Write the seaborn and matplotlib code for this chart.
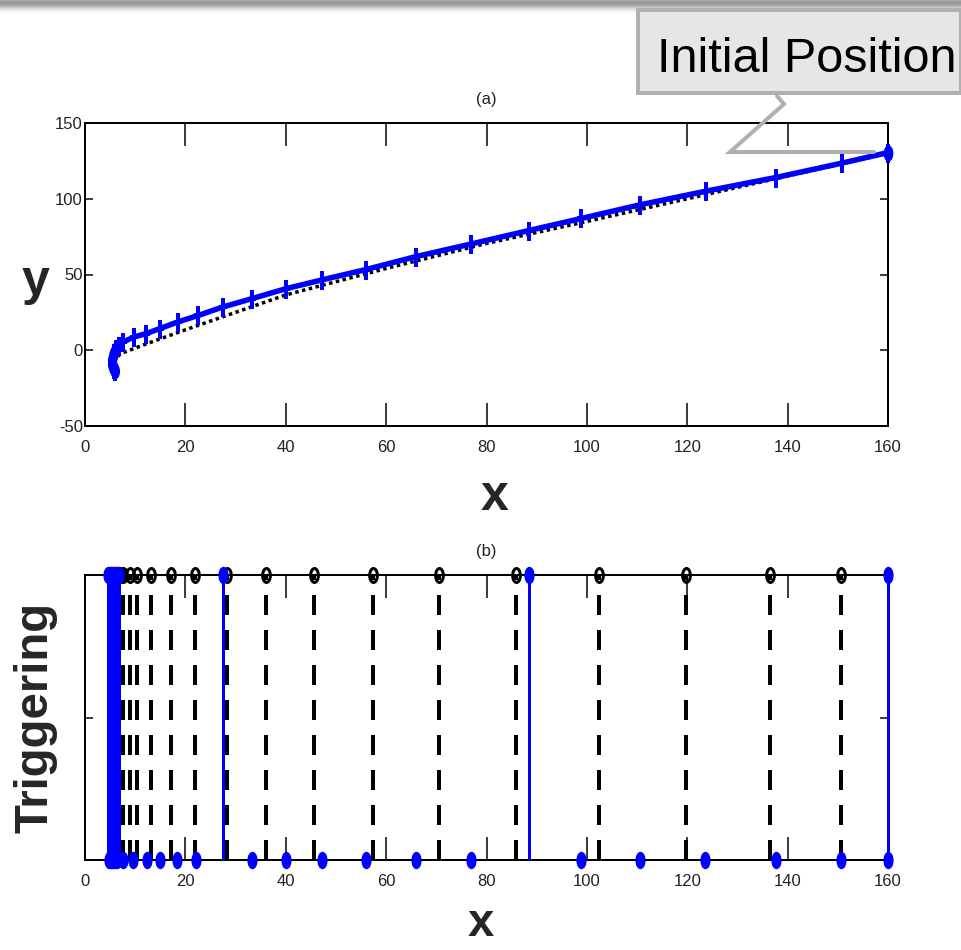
import numpy as np
import pandas as pd
import matplotlib
matplotlib.use("Agg")
import matplotlib.pyplot as plt
import seaborn as sns
from matplotlib.path import Path
from matplotlib.markers import MarkerStyle
from matplotlib.lines import Line2D
from matplotlib.patches import Rectangle

# ---------------- data ----------------
# panel (a): trajectory (blue, '+') and reference path (black dotted)
traj_x = [160, 150.8, 137.6, 123.7, 110.6, 98.9, 88.4, 77.0, 65.9, 56.0, 47.3, 40.0,
          33.2, 27.4, 22.6, 18.5, 14.9, 12.2, 9.8, 7.6, 6.8, 6.2, 5.8, 5.5, 5.4,
          5.4, 5.5, 5.7, 5.9]
traj_y = [130.5, 123.5, 114.0, 105.0, 96.0, 87.0, 79.0, 70.2, 61.8, 53.3, 46.5, 40.6,
          34.0, 28.5, 23.0, 18.7, 14.3, 11.0, 8.8, 5.5, 3.0, 1.0, -1.5, -4.0, -6.5,
          -9.0, -11.0, -12.5, -13.5]
ref_x = [6.5, 7.3, 10.6, 13.3, 20, 30, 40, 60, 80, 100, 120, 140, 160]
ref_y = [-4.0, -2.0, 2.2, 5.5, 13.5, 25.0, 36.5, 54.0, 70.5, 85.0, 100.0, 115.0, 130.0]

# panel (b): triggering instants
trig_x = [4.6, 4.9, 5.2, 5.5, 5.8, 6.1, 6.4, 6.7, 27.4, 88.4, 160]          # value 1 (blue)
idle_x = [4.8, 5.1, 5.4, 5.7, 6.0, 6.3, 7.6, 9.6, 12.3, 14.9, 18.4, 22.2, 33.3, 40.0,
          47.3, 55.9, 65.9, 77.0, 98.9, 110.6, 123.6, 137.6, 150.7, 160]    # value 0 (blue)
event_x = [5.2, 5.7, 6.3, 6.9, 7.6, 9.0, 10.4, 13.1, 17.1, 21.9, 28.2, 36.0, 45.7,
           57.3, 70.6, 85.8, 102.4, 119.7, 136.5, 150.7]                   # black dashed

x_ticks = [0, 20, 40, 60, 80, 100, 120, 140, 160]
y_ticks_a = [-50, 0, 50, 100, 150]

# ---------------- style ----------------
sns.set_style("ticks")
ARIAL = ["Liberation Sans", "Arial", "DejaVu Sans"]
NARROW = ["Liberation Sans Narrow", "Liberation Sans", "DejaVu Sans"]
plt.rcParams["font.family"] = ARIAL

W, H = 962, 950
fig = plt.figure(figsize=(W / 100, H / 100), dpi=100)
PX = 72 / 100  # points per pixel


def fx(px):
    return px / W


def fy(py):
    return 1 - py / H


circ = Path.unit_circle()
ellipse = MarkerStyle(Path(circ.vertices * np.array([0.55, 1.0]), circ.codes))
plus = MarkerStyle(Path([(-0.45, 0), (0.45, 0), (0, -1), (0, 1)],
                        [Path.MOVETO, Path.LINETO, Path.MOVETO, Path.LINETO]))

tick_kw = dict(direction="in", top=True, right=True, width=1.5 * PX, colors="black",
               labelcolor="#222222", labelsize=12)


def style_axes(ax):
    for s in ax.spines.values():
        s.set_linewidth(2 * PX)
        s.set_color("black")
        s.set_visible(True)
    ax.tick_params(axis="x", length=23 * PX, pad=10, **tick_kw)
    ax.tick_params(axis="y", length=8 * PX, pad=1.5, **tick_kw)
    for lab in ax.get_xticklabels() + ax.get_yticklabels():
        lab.set_fontfamily(NARROW)


# ---------------- panel (a) ----------------
ax1 = fig.add_axes([fx(85), fy(426), fx(888) - fx(85), fy(123) - fy(426)])
df_ref = pd.DataFrame({"x": ref_x, "y": ref_y})
df_traj = pd.DataFrame({"x": traj_x, "y": traj_y})
sns.lineplot(data=df_ref, x="x", y="y", ax=ax1, sort=False, color="black",
             linewidth=3.5 * PX, linestyle=(0, (1, 1)), zorder=2)
sns.lineplot(data=df_traj, x="x", y="y", ax=ax1, sort=False, color="#0000ff",
             linewidth=5.5 * PX, marker=plus, markersize=19 * PX,
             markeredgewidth=4 * PX, markeredgecolor="#0000ff", zorder=3, clip_on=False)
ax1.plot(traj_x[:1], traj_y[:1], marker=ellipse, ms=15 * PX, color="#0000ff",
         mec="#0000ff", clip_on=False, zorder=4)
ax1.plot(traj_x[-8:], traj_y[-8:], linestyle="none", marker=ellipse, ms=14 * PX,
         color="#0000ff", mec="#0000ff", zorder=4)
ax1.set_xlim(0, 160)
ax1.set_ylim(-50, 150)
ax1.set_xticks(x_ticks)
ax1.set_xticklabels([str(v) for v in x_ticks])
ax1.set_yticks(y_ticks_a)
ax1.set_yticklabels([str(v) for v in y_ticks_a])
ax1.set_xlabel("")
ax1.set_ylabel("")
style_axes(ax1)
ax1.set_title("(a)", fontsize=12, fontfamily=NARROW, pad=14, color="#222222")

# ---------------- panel (b) ----------------
ax2 = fig.add_axes([fx(85), fy(860), fx(888) - fx(85), fy(575) - fy(860)])
lw_d = 4 * PX
ax2.vlines(event_x, 0, 1, colors="black", linewidth=lw_d,
           linestyles=(0, (20 * PX / lw_d, 15 * PX / lw_d)), zorder=2)
ax2.plot(event_x, [1] * len(event_x), linestyle="none", marker=ellipse, ms=14 * PX,
         mfc="none", mec="black", mew=3 * PX, clip_on=False, zorder=5)
ax2.vlines(trig_x, 0, 1, colors="#0000ff", linewidth=3 * PX, zorder=4, clip_on=False)
ax2.plot(trig_x, [1] * len(trig_x), linestyle="none", marker=ellipse, ms=16 * PX,
         color="#0000ff", mec="#0000ff", clip_on=False, zorder=6)
ax2.plot(idle_x, [0] * len(idle_x), linestyle="none", marker=ellipse, ms=16 * PX,
         color="#0000ff", mec="#0000ff", clip_on=False, zorder=6)
ax2.set_xlim(0, 160)
ax2.set_ylim(0, 1)
ax2.set_xticks(x_ticks)
ax2.set_xticklabels([str(v) for v in x_ticks])
ax2.set_yticks([0.5])
ax2.set_yticklabels([""])
style_axes(ax2)
ax2.set_title("(b)", fontsize=12, fontfamily=NARROW, pad=14, color="#222222")

# ---------------- axis labels ----------------
fig.text(fx(35), fy(282), "y", ha="center", va="center", fontsize=36, fontweight="bold")
fig.text(fx(495), fy(510), "x", ha="center", va="baseline", fontsize=36, fontweight="bold")
fig.text(fx(481), fy(936), "x", ha="center", va="baseline", fontsize=34, fontweight="bold")
fig.text(fx(36), fy(717), "Triggering", ha="center", va="center", rotation=90,
         fontsize=34, fontweight="bold")

# ---------------- top shadow bar ----------------
axs = fig.add_axes([0, fy(16), 1, fy(0) - fy(16)])
grad = np.array([0.66, 0.62, 0.60, 0.60, 0.62, 0.66, 0.72, 0.78, 0.84, 0.89, 0.93,
                 0.96, 0.98, 0.99, 1.0, 1.0])[:, None]
axs.imshow(np.repeat(grad, 10, axis=1), cmap="gray", vmin=0, vmax=1, aspect="auto",
           interpolation="bilinear")
axs.set_axis_off()

# ---------------- "Initial Position" callout ----------------
fig.patches.append(Rectangle((fx(638), fy(93)), fx(961) - fx(638), fy(10) - fy(93),
                             transform=fig.transFigure, facecolor="#e6e6e6",
                             edgecolor="#b0b0b0", linewidth=4 * PX, zorder=10))
fig.text(fx(807), fy(72), "Initial Position", ha="center", va="baseline", fontsize=35,
         color="black", zorder=11)
fig.add_artist(Line2D([fx(777), fx(784), fx(730), fx(874)],
                      [fy(96), fy(104), fy(152), fy(152)], transform=fig.transFigure,
                      color="#b0b0b0", linewidth=4 * PX, solid_joinstyle="miter",
                      zorder=10))

fig.savefig("out.png", dpi=100)
